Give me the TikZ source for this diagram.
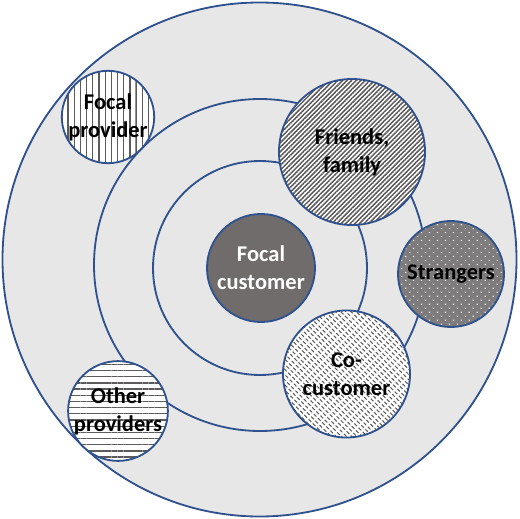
\documentclass[tikz,border=0pt]{standalone}
\usepackage{fontspec}
\setmainfont{Carlito}
\usepackage{xcolor}
\usepackage{tikz}
\usetikzlibrary{patterns.meta}

\definecolor{ringblue}{RGB}{47,82,143}
\definecolor{bggray}{RGB}{231,231,231}
\definecolor{coregray}{RGB}{111,108,107}
\definecolor{hatchgray}{RGB}{92,90,90}
\definecolor{dotgray}{RGB}{125,123,123}

% hatchings of the outer circles
\tikzdeclarepattern{
  name=hlines,
  bounding box={(0,-0.6pt) and (4.4pt,0.6pt)},
  tile size={(4.4pt,4.4pt)},
  code={\draw[line width=0.9pt] (0,0) -- (4.4pt,0);}
}
\tikzdeclarepattern{
  name=vlines,
  bounding box={(0,-0.6pt) and (4.4pt,0.6pt)},
  tile size={(4.4pt,4.4pt)},
  tile transformation={rotate=90},
  code={\draw[line width=0.9pt] (0,0) -- (4.4pt,0);}
}
\tikzdeclarepattern{
  name=dlines,
  bounding box={(0,-0.7pt) and (2.3pt,0.7pt)},
  tile size={(2.3pt,2.3pt)},
  tile transformation={rotate=45},
  code={\draw[line width=1.1pt] (0,0) -- (2.3pt,0);}
}
\tikzdeclarepattern{
  name=dashlines,
  bounding box={(0,-0.5pt) and (4.2pt,0.5pt)},
  tile size={(4.2pt,2.6pt)},
  tile transformation={rotate=-45},
  code={\draw[line width=0.75pt] (0,0) -- (2.6pt,0);}
}
\tikzdeclarepattern{
  name=wdots,
  bounding box={(-1pt,-1pt) and (1pt,1pt)},
  tile size={(4pt,4pt)},
  tile transformation={rotate=45},
  code={\fill (0,0) circle (0.6pt);}
}

\begin{document}
\begin{tikzpicture}[
  x=0.025cm,
  y=-0.025cm,
  ring/.style={draw=ringblue, line width=1.3pt},
  member/.style={
    circle,
    draw=ringblue,
    line width=1.3pt,
    inner sep=0pt,
    align=center,
    text=black,
    font=\bfseries\fontsize{16}{20}\selectfont
  },
  hatched/.style={preaction={fill=white}, pattern=#1, pattern color=hatchgray}
]
  \useasboundingbox (0,0) rectangle (520,519);

  % rings
  \fill[bggray] (259.5,259.5) circle[radius=257.5];
  \draw[ring] (259.5,259.5) circle[radius=257];
  \draw[ring] (260,265) circle[radius=166];
  \draw[ring] (260,268) circle[radius=107];

  \node[member, minimum size=2.7cm, fill=coregray, text=white] (customer)
    at (261,268) {Focal\\customer};
  \node[member, minimum size=3.65cm, hatched=dlines] (friends)
    at (352,152) {Friends,\\family};
  \node[member, minimum size=2.65cm, preaction={fill=dotgray},
    pattern=wdots, pattern color=white] (strangers)
    at (451,274) {Strangers};
  \node[member, minimum size=3.175cm, hatched=dashlines] (cocustomer)
    at (346.5,374) {Co-\\customer};
  \node[member, minimum size=2.25cm, hatched=vlines] (provider)
    at (108,117) {Focal\\provider};
  \node[member, minimum size=2.3cm, hatched=hlines] (others)
    at (118,411) {Other\\providers};
\end{tikzpicture}
\end{document}
